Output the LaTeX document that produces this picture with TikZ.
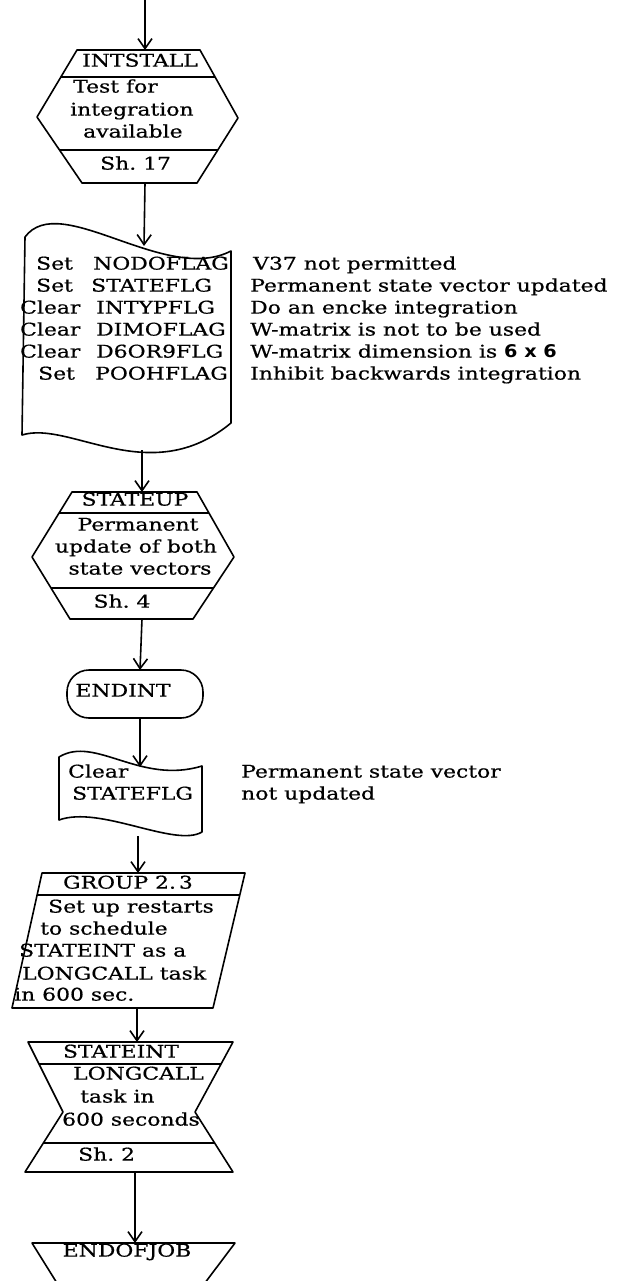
\documentclass[tikz,border=0pt]{standalone}
\usepackage{fontspec}
\setmainfont{DejaVu Serif}[FakeStretch=1.25, FakeBold=0.6]
\newfontfamily\numfont{DejaVu Sans Bold}[FakeStretch=1.1]
\usetikzlibrary{arrows.meta}
\newcommand{\fsz}{\fontsize{17.5}{22}\selectfont}
\tikzset{
  flow/.style={line width=1.6pt, line join=round},
  link/.style={line width=1.6pt, -{Straight Barb[length=10pt,width=14pt,line width=1.6pt]}},
  lbl/.style={inner sep=0pt, font=\fsz},
  lw/.style={lbl, anchor=mid west},
  lc/.style={lbl, anchor=mid},
}
\begin{document}
\begin{tikzpicture}[x=1pt,y=-1pt]
\path[use as bounding box] (0,0) rectangle (625,1281);
\clip (0,0) rectangle (625,1281);
\fill[white] (0,0) rectangle (625,1281);

% ---- INTSTALL: test for integration available
\draw[flow] (77,50) -- (200,50) -- (238,118) -- (197,183) -- (82,183) -- (37,117) -- cycle;
\draw[flow] (61,77) -- (215,77);
\draw[flow] (59,150) -- (218,150);
\node[lc] (intH) at (140,64) {INTSTALL};
\node[lw] (intA) at (73,90) {Test for};
\node[lw] (intB) at (70,113) {integration};
\node[lw] (intC) at (83,135) {available};
\node[lw] (intS) at (100,167) {Sh.\ 17};
\coordinate (in0) at (145,0);
\coordinate (intTop) at (145,50);
\coordinate (intBot) at (145,183);

% ---- flag settings (tape)
\draw[flow] (25,237) .. controls (60,190) and (165,285) .. (231,251)
  -- (231,423) .. controls (150,490) and (70,420) .. (22,435) -- cycle;
\coordinate (tapeTop) at (144,246);
\coordinate (tapeBot) at (142,450);
\node[lw] (v1) at (36,267) {Set};
\node[lw] (f1) at (93,267) {NODOFLAG};
\node[lw] (v2) at (36,289) {Set};
\node[lw] (f2) at (91,289) {STATEFLG};
\node[lw] (v3) at (20,311) {Clear};
\node[lw] (f3) at (96,311) {INTYPFLG};
\node[lw] (v4) at (20,333) {Clear};
\node[lw] (f4) at (96,333) {DIMOFLAG};
\node[lw] (v5) at (20,355) {Clear};
\node[lw] (f5) at (96,355) {D6OR9FLG};
\node[lw] (v6) at (38,377) {Set};
\node[lw] (f6) at (95,377) {POOHFLAG};
\node[lw] (c1) at (253,267) {V37 not permitted};
\node[lw] (c2) at (250,289) {Permanent state vector updated};
\node[lw] (c3) at (250,311) {Do an encke integration};
\node[lw] (c4) at (250,333) {W-matrix is not to be used};
\node[lw] (c5) at (250,355) {W-matrix dimension is {\numfont 6 x 6}};
\node[lw] (c6) at (250,377) {Inhibit backwards integration};

% ---- STATEUP
\draw[flow] (72,492) -- (197,492) -- (234,557) -- (193,619) -- (70,619) -- (32,557) -- cycle;
\draw[flow] (59,513) -- (209,513);
\draw[flow] (51,588) -- (213,588);
\node[lc] (suH) at (135,503) {STATEUP};
\node[lc] (suA) at (138,528) {Permanent};
\node[lc] (suB) at (136,550) {update of both};
\node[lc] (suC) at (140,572) {state vectors};
\node[lc] (suS) at (122,605) {Sh.\ 4};
\coordinate (suTop) at (142,492);
\coordinate (suBot) at (142,619);

% ---- ENDINT terminal
\draw[flow, rounded corners=22pt] (67,670) rectangle (203,718);
\node[lc] (endint) at (123,694) {ENDINT};
\coordinate (eiTop) at (140,670);
\coordinate (eiBot) at (140,718);

% ---- clear STATEFLG (tape)
\draw[flow] (59,757) .. controls (95,735) and (140,785) .. (202,766)
  -- (202,832) .. controls (175,848) and (100,805) .. (59,820) -- cycle;
\node[lw] (clA) at (68,775) {Clear};
\node[lw] (clB) at (72,797) {STATEFLG};
\node[lw] (clC) at (241,775) {Permanent state vector};
\node[lw] (clD) at (241,797) {not updated};
\coordinate (clTop) at (140,767);
\coordinate (clBot) at (138,836);

% ---- GROUP 2.3 restart setup
\draw[flow] (42,873) -- (245,873) -- (213,1008) -- (12,1008) -- cycle;
\draw[flow] (37,895) -- (240,895);
\node[lc] (grH) at (128,886) {GROUP 2.\,3};
\node[lw] (grA) at (48,910) {Set up restarts};
\node[lw] (grB) at (40,932) {to schedule};
\node[lw] (grC) at (19,954) {STATEINT as a};
\node[lw] (grD) at (22,977) {LONGCALL task};
\node[lw] (grE) at (14,998) {in 600 sec.};
\coordinate (grTop) at (138,873);
\coordinate (grBot) at (137,1008);

% ---- STATEINT
\draw[flow] (28,1042) -- (233,1042) -- (195,1112) -- (233,1172) -- (25,1172) -- (63,1112) -- cycle;
\draw[flow] (39,1064) -- (221,1064);
\draw[flow] (43,1143) -- (215,1143);
\node[lc] (siH) at (121,1055) {STATEINT};
\node[lw] (siA) at (73,1077) {LONGCALL};
\node[lw] (siB) at (80,1100) {task in};
\node[lw] (siC) at (62,1123) {600 seconds};
\node[lw] (siS) at (78,1158) {Sh.\ 2};
\coordinate (siTop) at (137,1042);
\coordinate (siBot) at (135,1172);

% ---- ENDOFJOB
\draw[flow] (32,1243) -- (235,1243) -- (177,1320) -- (80,1320) -- cycle;
\node[lc] (ej) at (127,1254) {ENDOFJOB};
\coordinate (ejTop) at (135,1243);

% ---- connectors
\draw[link] (in0) -- (intTop);
\draw[link] (intBot) -- (tapeTop);
\draw[link] (tapeBot) -- (suTop);
\draw[link] (suBot) -- (eiTop);
\draw[link] (eiBot) -- (clTop);
\draw[link] (clBot) -- (grTop);
\draw[link] (grBot) -- (siTop);
\draw[link] (siBot) -- (ejTop);
\end{tikzpicture}
\end{document}
